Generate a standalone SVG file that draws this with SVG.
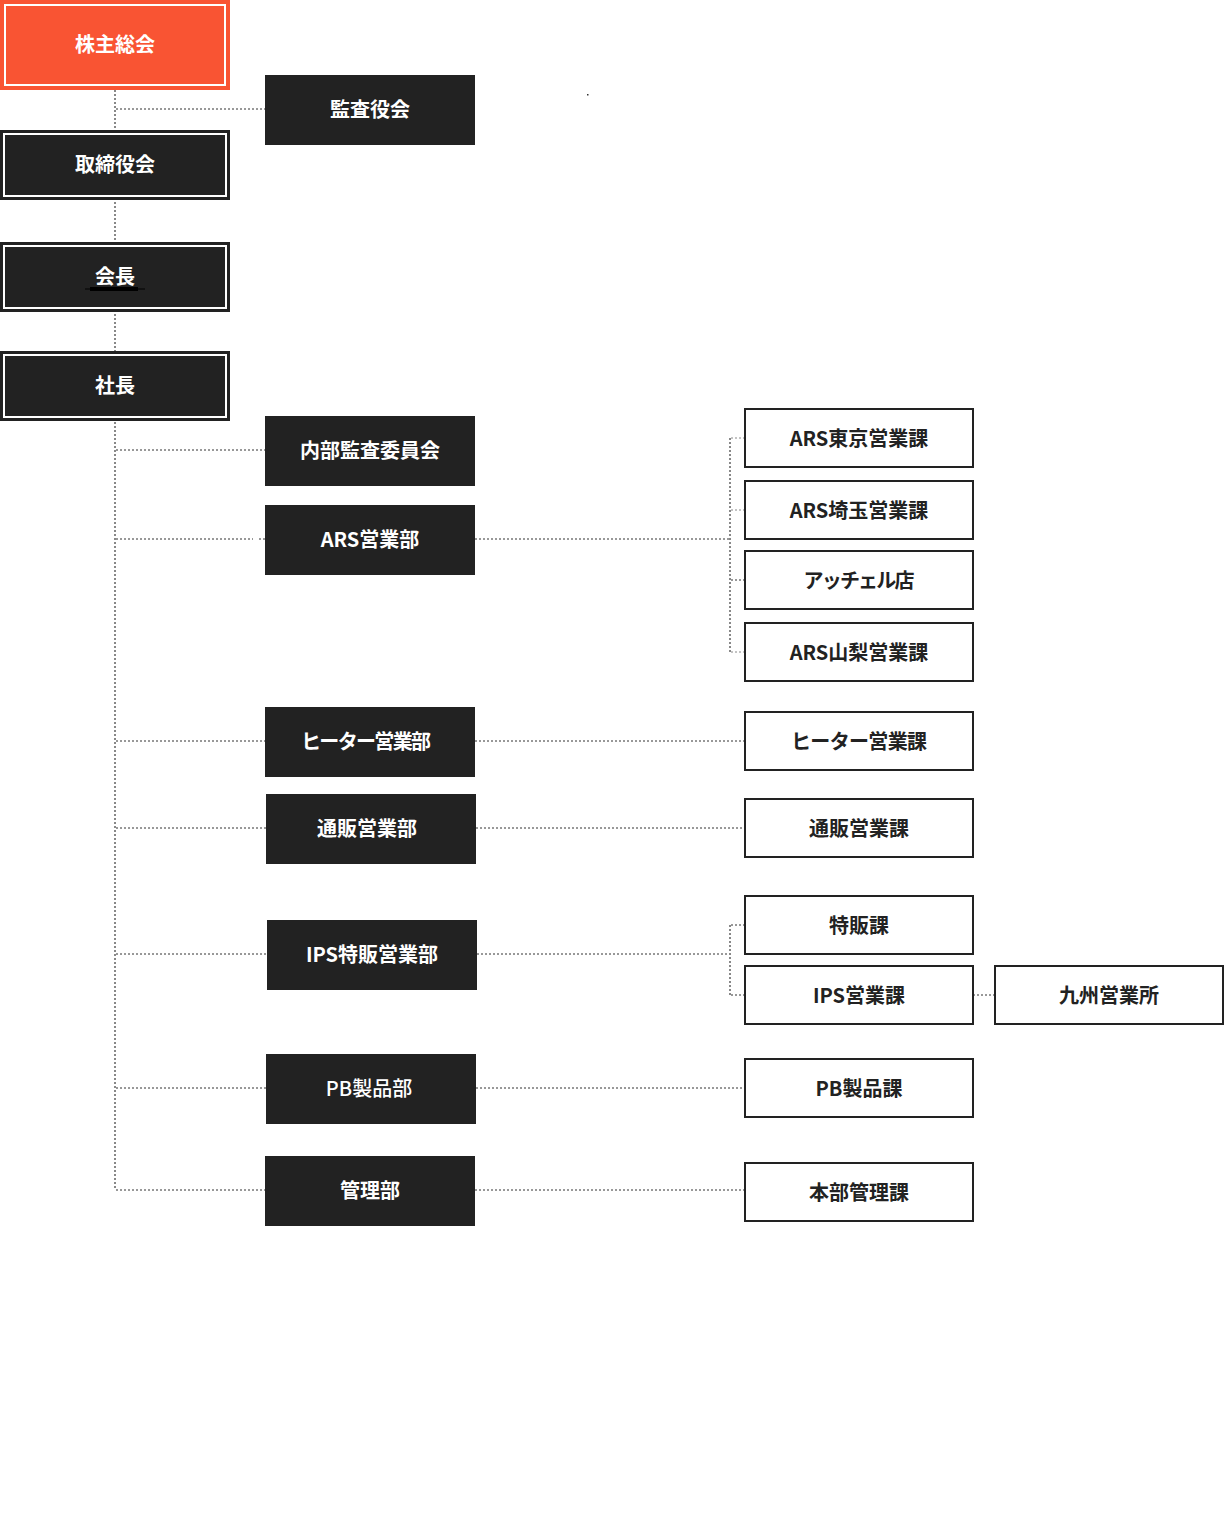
<svg xmlns="http://www.w3.org/2000/svg" width="1224" height="1536" viewBox="0 0 1224 1536">
<defs>
<style>
text{font-family:"Noto Sans CJK JP","Noto Sans",sans-serif;font-size:20px;font-weight:700;text-anchor:middle;dominant-baseline:central}
.dk{fill:#222}
.tw{fill:#fff}
.tb{fill:#222}
.inner{fill:none;stroke:#fff;stroke-width:2}
.box{fill:#fff;stroke:#222;stroke-width:2}
.vg{stroke:#888;stroke-width:2;stroke-dasharray:2 2;fill:none}
.hd{stroke:#333;stroke-width:1;stroke-dasharray:2 2;fill:none}
.hg{stroke:#888;stroke-width:1;stroke-dasharray:2 2;fill:none}
</style>
</defs>
<rect width="1224" height="1536" fill="#fff"/>
<g id="connectors">
<line class="vg" x1="115" y1="90" x2="115" y2="1190"/>
<line class="hd" x1="116" y1="109" x2="265" y2="109"/>
<line class="hd" x1="116" y1="450" x2="265" y2="450"/>
<line class="hd" x1="116" y1="539" x2="253" y2="539"/>
<line class="hd" x1="259" y1="539" x2="265" y2="539"/>
<line class="hd" x1="116" y1="741" x2="265" y2="741"/>
<line class="hd" x1="116" y1="828" x2="266" y2="828"/>
<line class="hd" x1="116" y1="954" x2="267" y2="954"/>
<line class="hd" x1="116" y1="1088" x2="266" y2="1088"/>
<line class="hd" x1="116" y1="1190" x2="265" y2="1190"/>
<line class="hd" x1="475" y1="539" x2="730" y2="539"/>
<line class="vg" x1="730" y1="438" x2="730" y2="652"/>
<line class="hg" x1="731" y1="438" x2="745" y2="438"/>
<line class="hg" x1="731" y1="510" x2="745" y2="510"/>
<line class="hd" x1="731" y1="580" x2="745" y2="580"/>
<line class="hg" x1="731" y1="652" x2="745" y2="652"/>
<line class="hd" x1="475" y1="741" x2="745" y2="741"/>
<line class="hd" x1="476" y1="828" x2="745" y2="828"/>
<line class="hd" x1="477" y1="954" x2="730" y2="954"/>
<line class="vg" x1="730" y1="925" x2="730" y2="995"/>
<line class="hd" x1="731" y1="925" x2="745" y2="925"/>
<line class="hd" x1="731" y1="995" x2="745" y2="995"/>
<line class="hd" x1="973" y1="995" x2="995" y2="995"/>
<line class="hd" x1="476" y1="1088" x2="745" y2="1088"/>
<line class="hd" x1="475" y1="1190" x2="745" y2="1190"/>
</g>
<rect x="587" y="94" width="1.5" height="1.5" fill="#333"/>
<g id="n-shareholders">
<rect x="0" y="0" width="230" height="90" fill="#F95433"/>
<rect class="inner" x="5" y="5" width="220" height="80"/>
<text class="tw" x="115" y="43">株主総会</text>
</g>
<g id="n-board">
<rect class="dk" x="0" y="130" width="230" height="70"/>
<rect class="inner" x="4" y="134" width="222" height="62"/>
<text class="tw" x="115" y="163">取締役会</text>
</g>
<g id="n-chairman">
<rect class="dk" x="0" y="242" width="230" height="70"/>
<rect class="inner" x="4" y="246" width="222" height="62"/>
<text class="tw" x="115" y="275">会長</text>
<rect x="85" y="288.5" width="60" height="1" fill="#000"/>
<rect x="90" y="287" width="48" height="4" fill="#000"/>
</g>
<g id="n-president">
<rect class="dk" x="0" y="351" width="230" height="70"/>
<rect class="inner" x="4" y="355" width="222" height="62"/>
<text class="tw" x="115" y="384">社長</text>
</g>
<g id="n-auditors">
<rect class="dk" x="265" y="75" width="210" height="70"/>
<text class="tw" x="370" y="108">監査役会</text>
</g>
<g id="n-internal-audit">
<rect class="dk" x="265" y="416" width="210" height="70"/>
<text class="tw" x="370" y="449">内部監査委員会</text>
</g>
<g id="n-ars-dept">
<rect class="dk" x="265" y="505" width="210" height="70"/>
<text class="tw" x="370" y="538">ARS営業部</text>
</g>
<g id="n-heater-dept">
<rect class="dk" x="265" y="707" width="210" height="70"/>
<text class="tw" x="366" y="740" textLength="130" lengthAdjust="spacing">ヒーター営業部</text>
</g>
<g id="n-mailorder-dept">
<rect class="dk" x="266" y="794" width="210" height="70"/>
<text class="tw" x="367" y="827">通販営業部</text>
</g>
<g id="n-ips-dept">
<rect class="dk" x="267" y="920" width="210" height="70"/>
<text class="tw" x="372" y="953">IPS特販営業部</text>
</g>
<g id="n-pb-dept">
<rect class="dk" x="266" y="1054" width="210" height="70"/>
<text class="tw" x="369" y="1087" style="font-weight:500">PB製品部</text>
</g>
<g id="n-admin-dept">
<rect class="dk" x="265" y="1156" width="210" height="70"/>
<text class="tw" x="370" y="1189">管理部</text>
</g>
<g id="n-ars-tokyo">
<rect class="box" x="745" y="409" width="228" height="58"/>
<text class="tb" x="859" y="437">ARS東京営業課</text>
</g>
<g id="n-ars-saitama">
<rect class="box" x="745" y="481" width="228" height="58"/>
<text class="tb" x="859" y="509">ARS埼玉営業課</text>
</g>
<g id="n-accel">
<rect class="box" x="745" y="551" width="228" height="58"/>
<text class="tb" x="859" y="579" textLength="111" lengthAdjust="spacing">アッチェル店</text>
</g>
<g id="n-ars-yamanashi">
<rect class="box" x="745" y="623" width="228" height="58"/>
<text class="tb" x="859" y="651">ARS山梨営業課</text>
</g>
<g id="n-heater-sec">
<rect class="box" x="745" y="712" width="228" height="58"/>
<text class="tb" x="859" y="740" textLength="136" lengthAdjust="spacing">ヒーター営業課</text>
</g>
<g id="n-mailorder-sec">
<rect class="box" x="745" y="799" width="228" height="58"/>
<text class="tb" x="859" y="827">通販営業課</text>
</g>
<g id="n-special-sec">
<rect class="box" x="745" y="896" width="228" height="58"/>
<text class="tb" x="859" y="924">特販課</text>
</g>
<g id="n-ips-sec">
<rect class="box" x="745" y="966" width="228" height="58"/>
<text class="tb" x="859" y="994">IPS営業課</text>
</g>
<g id="n-kyushu">
<rect class="box" x="995" y="966" width="228" height="58"/>
<text class="tb" x="1109" y="994">九州営業所</text>
</g>
<g id="n-pb-sec">
<rect class="box" x="745" y="1059" width="228" height="58"/>
<text class="tb" x="859" y="1087">PB製品課</text>
</g>
<g id="n-admin-sec">
<rect class="box" x="745" y="1163" width="228" height="58"/>
<text class="tb" x="859" y="1191">本部管理課</text>
</g>
</svg>
